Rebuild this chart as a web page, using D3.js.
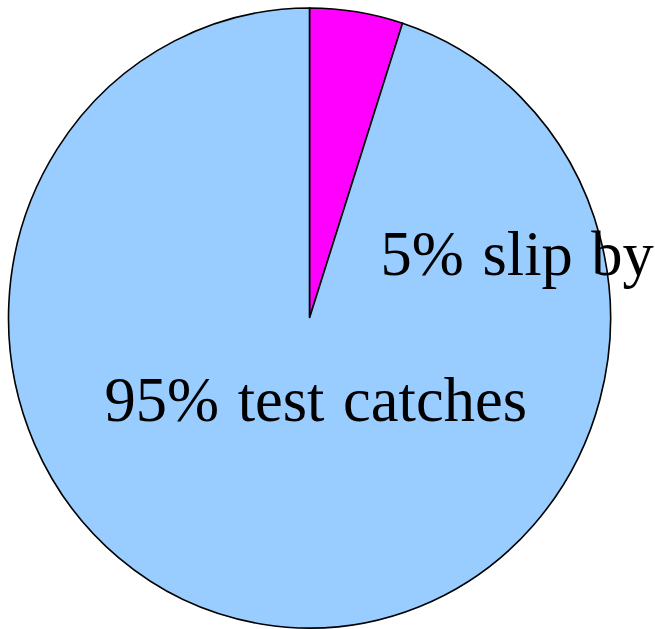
<!DOCTYPE html>
<html>
<head>
<meta charset="utf-8">
<script src="https://cdn.jsdelivr.net/npm/d3@7"></script>
<style>
  body { margin: 0; background: #fff; }
  svg { display: block; }
</style>
</head>
<body>
<div id="content"></div>
<script>
// slice order matters: the small slice starts at 12 o'clock
var labels = ["5% slip by", "95% test catches"];
var values = [5, 95];
var colors = ["#ff00ff", "#99ccff"];

var W = 655, H = 629;
var cx = 309.5, cy = 318, rx = 301, ry = 310;

var svg = d3.select("#content").append("svg")
  .attr("width", W).attr("height", H);

var pie = d3.pie().sort(null).value(function(d) { return d; });
var arc = d3.arc().innerRadius(0).outerRadius(rx);

var g = svg.append("g")
  .attr("transform", "translate(" + cx + "," + cy + ") scale(1," + (ry / rx) + ")");

g.selectAll("path")
  .data(pie(values))
  .enter().append("path")
  .attr("d", arc)
  .attr("fill", function(d, i) { return colors[i]; })
  .attr("stroke", "#000")
  .attr("stroke-width", 1.6)
  .attr("vector-effect", "non-scaling-stroke");

// label positions, relative to pie centre
var labelPos = [[71, -43], [-205, 103]];

svg.selectAll("text.lbl")
  .data(labels)
  .enter().append("text")
  .attr("class", "lbl")
  .attr("x", function(d, i) { return cx + labelPos[i][0]; })
  .attr("y", function(d, i) { return cy + labelPos[i][1]; })
  .attr("font-family", "'Liberation Serif', 'Times New Roman', serif")
  .attr("font-size", 62.5)
  .attr("word-spacing", 3)
  .attr("fill", "#000")
  .text(function(d) { return d; });
</script>
</body>
</html>
